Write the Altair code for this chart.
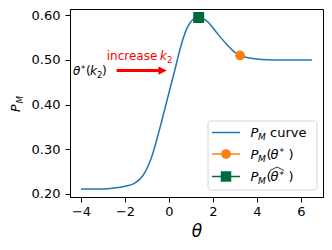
import altair as alt
import pandas as pd

# ---- data ----
theta = [-4.0, -3.0, -2.5, -2.0, -1.6, -1.2, -0.8, -0.4, 0.0, 0.3, 0.5, 0.8, 1.1,
         1.35, 1.7, 2.2, 2.6, 3.0, 3.4, 3.8, 4.2, 4.8, 5.5, 6.5]
pm = [0.211, 0.211, 0.213, 0.217, 0.223, 0.240, 0.281, 0.350, 0.427, 0.484, 0.524,
      0.569, 0.591, 0.595, 0.588, 0.559, 0.536, 0.517, 0.507, 0.503, 0.501, 0.500,
      0.500, 0.500]
opt_theta = [3.23]
opt_pm = [0.510]
hat_theta = [1.35]
hat_pm = [0.595]
x_ticks = [-4, -2, 0, 2, 4, 6]
y_ticks = [0.20, 0.25, 0.30, 0.35, 0.40, 0.45, 0.50, 0.55, 0.60]

FONT = "DejaVu Sans"
BLUE = "#1f77b4"
ORANGE = "#ff7f0e"
GREEN = "#006a3a"
RED = "#ff0000"
W, H = 253, 188
FS = 13    # tick / legend font size

xs = alt.Scale(domain=[-4.5, 7.0], nice=False, zero=False)
ys = alt.Scale(domain=[0.193, 0.614], nice=False, zero=False)

curve_df = pd.DataFrame({"theta": theta, "pm": pm})
opt_df = pd.DataFrame({"theta": opt_theta, "pm": opt_pm})
hat_df = pd.DataFrame({"theta": hat_theta, "pm": hat_pm})
one = pd.DataFrame({"k": [0]})  # single row for annotation marks

curve = alt.Chart(curve_df).mark_line(color=BLUE, strokeWidth=1.5, interpolate="monotone").encode(
    x=alt.X("theta:Q", scale=xs,
            axis=alt.Axis(values=x_ticks, title="θ", titleFontStyle="italic", titleFontSize=17,
                          titleFontWeight="normal", titleFont=FONT, titleColor="black",
                          labelPadding=3, titlePadding=5)),
    y=alt.Y("pm:Q", scale=ys, axis=alt.Axis(values=y_ticks, format=".2f", title=None, labelPadding=5)),
)
opt_pt = alt.Chart(opt_df).mark_point(filled=True, shape="circle", size=95, color=ORANGE, opacity=1).encode(
    x="theta:Q", y="pm:Q")
hat_pt = alt.Chart(hat_df).mark_point(filled=True, shape="square", size=121, color=GREEN, opacity=1).encode(
    x="theta:Q", y="pm:Q")

layers = [curve, opt_pt, hat_pt]

# ---- annotation: arrow ----
arrow_y = 0.476
layers.append(alt.Chart(one).mark_rule(color=RED, strokeWidth=3).encode(
    x=alt.datum(-2.38), x2=alt.datum(-0.45), y=alt.datum(arrow_y)))
layers.append(alt.Chart(one).mark_point(shape="M1,0L-1,-1L-1,1Z", filled=True, color=RED,
                                        size=70, opacity=1).encode(
    x=alt.datum(-0.29), y=alt.datum(arrow_y)))

# ---- annotation texts (anchor in data coords, pieces offset in px) ----
ann_pieces = [
    # (anchor_x, anchor_y, text, dx, dy, size, italic, color)
    (-2.83, 0.500, "increase", 0, 0, 12, False, RED),
    (-2.83, 0.500, "k", 53.3, 0, 12, True, RED),
    (-2.83, 0.500, "2", 60.3, 3, 8.5, False, RED),
    (-4.36, 0.4666, "θ", 0, 0, 12, True, "black"),
    (-4.36, 0.4666, "*", 8, -3, 8.5, False, "black"),
    (-4.36, 0.4666, "(", 13, 0, 12, False, "black"),
    (-4.36, 0.4666, "k", 17, 0, 12, True, "black"),
    (-4.36, 0.4666, "2", 24, 3, 8.5, False, "black"),
    (-4.36, 0.4666, ")", 29, 0, 12, False, "black"),
]
for ax, ay, t, dx, dy, sz, it, col in ann_pieces:
    kw = dict(text=t, dx=dx, dy=dy, fontSize=sz, color=col, font=FONT, align="left", baseline="alphabetic")
    if it:
        kw["fontStyle"] = "italic"
    layers.append(alt.Chart(one).mark_text(**kw).encode(x=alt.datum(ax), y=alt.datum(ay)))

# ---- y axis title P_M (rotated) ----
ytitle = [(-50.5, 103, "P", 12.5), (-47.5, 94.5, "M", 8.8)]
for px, py, t, sz in ytitle:
    layers.append(alt.Chart(one).mark_text(text=t, angle=270, fontSize=sz, fontStyle="italic",
                                           font=FONT, color="black", align="left",
                                           baseline="alphabetic").encode(
        x=alt.value(px), y=alt.value(py)))

# ---- legend ----
LX0, LX1, LY0, LY1 = 138, 247, 112, 181
layers.append(alt.Chart(one).mark_rect(fill="white", stroke="#cccccc", strokeWidth=1,
                                       cornerRadius=3, opacity=0.8).encode(
    x=alt.value(LX0), x2=alt.value(LX1), y=alt.value(LY0), y2=alt.value(LY1)))
rows = [123.5, 145, 167.5]
row_colors = [BLUE, ORANGE, GREEN]
row_shapes = [None, "circle", "square"]
row_sizes = [0, 95, 110]
for ry, col, shp, sz in zip(rows, row_colors, row_shapes, row_sizes):
    layers.append(alt.Chart(one).mark_rule(color=col, strokeWidth=1.5).encode(
        x=alt.value(142), x2=alt.value(170), y=alt.value(ry)))
    if shp:
        layers.append(alt.Chart(one).mark_point(shape=shp, filled=True, size=sz, color=col,
                                                opacity=1).encode(
            x=alt.value(156), y=alt.value(ry)))

TX = 180.5
SUB = 9
leg_pieces = [
    # (row, text, dx, dy, size, italic)
    (0, "P", 0, 0, FS, True), (0, "M", 7.6, 3, SUB, True), (0, "curve", 19.5, 0, FS, False),
    (1, "P", 0, 0, FS, True), (1, "M", 7.6, 3, SUB, True), (1, "(", 16, 0, FS, False),
    (1, "θ", 20, 0, FS, True), (1, "*", 29, -3.5, SUB, False), (1, ")", 38, 0, FS, False),
    (2, "P", 0, 0, FS, True), (2, "M", 7.6, 3, SUB, True), (2, "(", 16, 0, FS, False),
    (2, "θ", 20, 0, FS, True), (2, "*", 29, -3.5, SUB, False), (2, ")", 38, 0, FS, False),
]
for r, t, dx, dy, sz, it in leg_pieces:
    kw = dict(text=t, fontSize=sz, color="black", font=FONT, align="left", baseline="alphabetic")
    if it:
        kw["fontStyle"] = "italic"
    layers.append(alt.Chart(one).mark_text(**kw).encode(
        x=alt.value(TX + dx), y=alt.value(rows[r] + 4.5 + dy)))

# wide hat over theta* in third legend row
base3 = rows[2] + 4.5
for (x1, y1, x2, y2) in [(TX + 19.5, base3 - 10.5, TX + 26.5, base3 - 14),
                         (TX + 26.5, base3 - 14, TX + 33.5, base3 - 10.5)]:
    layers.append(alt.Chart(one).mark_rule(color="black", strokeWidth=0.8).encode(
        x=alt.value(x1), y=alt.value(y1), x2=alt.value(x2), y2=alt.value(y2)))

chart = alt.layer(*layers).properties(
    width=W, height=H,
    padding={"left": 62, "top": 1, "right": 1, "bottom": 44},
    autosize=alt.AutoSizeParams(type="none"),
).configure_view(stroke="black", strokeWidth=1).configure_axis(
    labelFont=FONT, labelFontSize=FS, labelColor="black", tickColor="black", domainColor="black",
    tickSize=5, tickWidth=1, domainWidth=1, grid=False,
)

chart.save("out.html", embed_options={"renderer": "svg", "actions": False})
